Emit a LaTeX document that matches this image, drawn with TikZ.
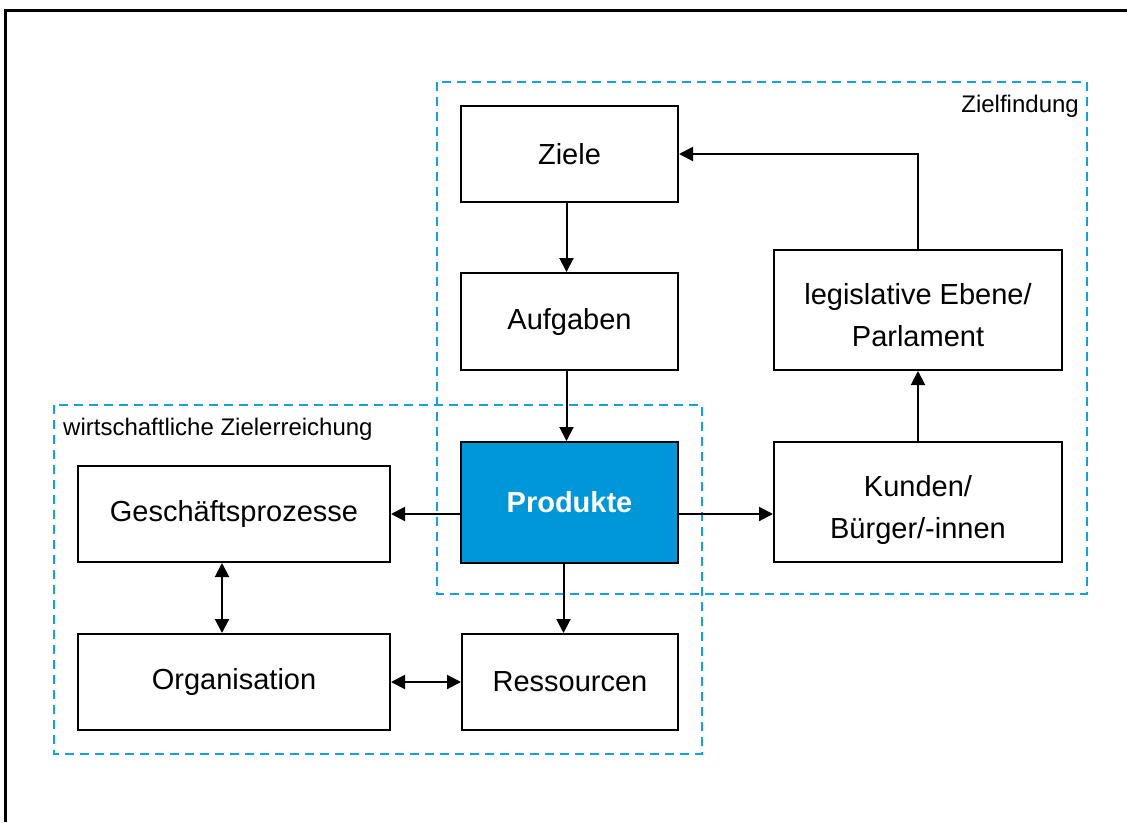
\documentclass[tikz,border=0pt]{standalone}
\usepackage{fontspec}
\setmainfont{Liberation Sans}
\usetikzlibrary{arrows.meta,calc}
\definecolor{prodblue}{RGB}{0,151,216}
\definecolor{zoneblue}{RGB}{20,160,222}
% two-line box text, set a little below the box centre
\newcommand{\twolines}[2]{\raisebox{0pt}[\dimexpr\height+14pt\relax]{\begin{tabular}{@{}c@{}}#1\\#2\end{tabular}}}
\begin{document}
\begin{tikzpicture}[x=1pt,y=-1pt,
  box/.style={draw=black,line width=2pt,inner sep=0pt,align=center,
    font=\fontsize{29}{42}\selectfont},
  zone/.style={draw=zoneblue,line width=2pt,dash pattern=on 9pt off 6pt},
  zonelabel/.style={inner sep=0pt,font=\fontsize{24}{28}\selectfont},
  link/.style={line width=2pt,-{Triangle[length=14pt,width=14pt]}},
  dlink/.style={line width=2pt,{Triangle[length=14pt,width=14pt]}-{Triangle[length=14pt,width=14pt]}}]
\useasboundingbox (0,0) rectangle (1127,822);
% frame (only top and left edges fall inside the page)
\draw[line width=2.2pt] (5.5,822) -- (5.5,10.5) -- (1127,10.5);

% dashed zones
\draw[zone] (437,82) rectangle (1087,594);
\draw[zone] (54,405) rectangle (702,754);
\node[zonelabel,anchor=base east] (zf) at (1079,112) {Zielfindung};
\node[zonelabel,anchor=base west] (wz) at (63,435) {wirtschaftliche Zielerreichung};

% boxes
\node[box,minimum width=217pt,minimum height=96pt] (ziele) at (569.5,154) {Ziele};
\node[box,minimum width=217pt,minimum height=97pt] (aufg) at (569.5,321.5) {Aufgaben};
\node[box,minimum width=217pt,minimum height=121pt,fill=prodblue,text=white,
  font=\fontsize{29}{42}\selectfont\bfseries] (prod) at (569.5,502.5) {Produkte};
\node[box,minimum width=288pt,minimum height=120pt] (legis) at (918,310) {\twolines{legislative Ebene/}{Parlament}};
\node[box,minimum width=288pt,minimum height=120pt] (kund) at (918,502) {\twolines{Kunden/}{Bürger/-innen}};
\node[box,minimum width=312pt,minimum height=96pt] (gesch) at (234,514) {Geschäftsprozesse};
\node[box,minimum width=312pt,minimum height=96pt] (org) at (234,682) {Organisation};
\node[box,minimum width=216pt,minimum height=96pt] (ress) at (570,682) {Ressourcen};

% connectors
\draw[link] ([xshift=-3pt]ziele.south) -- ([xshift=-3pt]aufg.north);
\draw[link] ([xshift=-3pt]aufg.south) -- ([xshift=-3pt]prod.north);
\draw[link] (prod.west |- gesch.east) -- (gesch.east);
\draw[link] (prod.east |- gesch.east) -- (kund.west |- gesch.east);
\draw[link] ([xshift=-6pt]prod.south) -- ([xshift=-6pt]prod.south |- ress.north);
\draw[link] (kund.north) -- (legis.south);
\draw[link] (legis.north) |- (ziele.east);
\draw[dlink] ([xshift=-12pt]gesch.south) -- ([xshift=-12pt]org.north);
\draw[dlink] (org.east) -- (ress.west);
\end{tikzpicture}
\end{document}
